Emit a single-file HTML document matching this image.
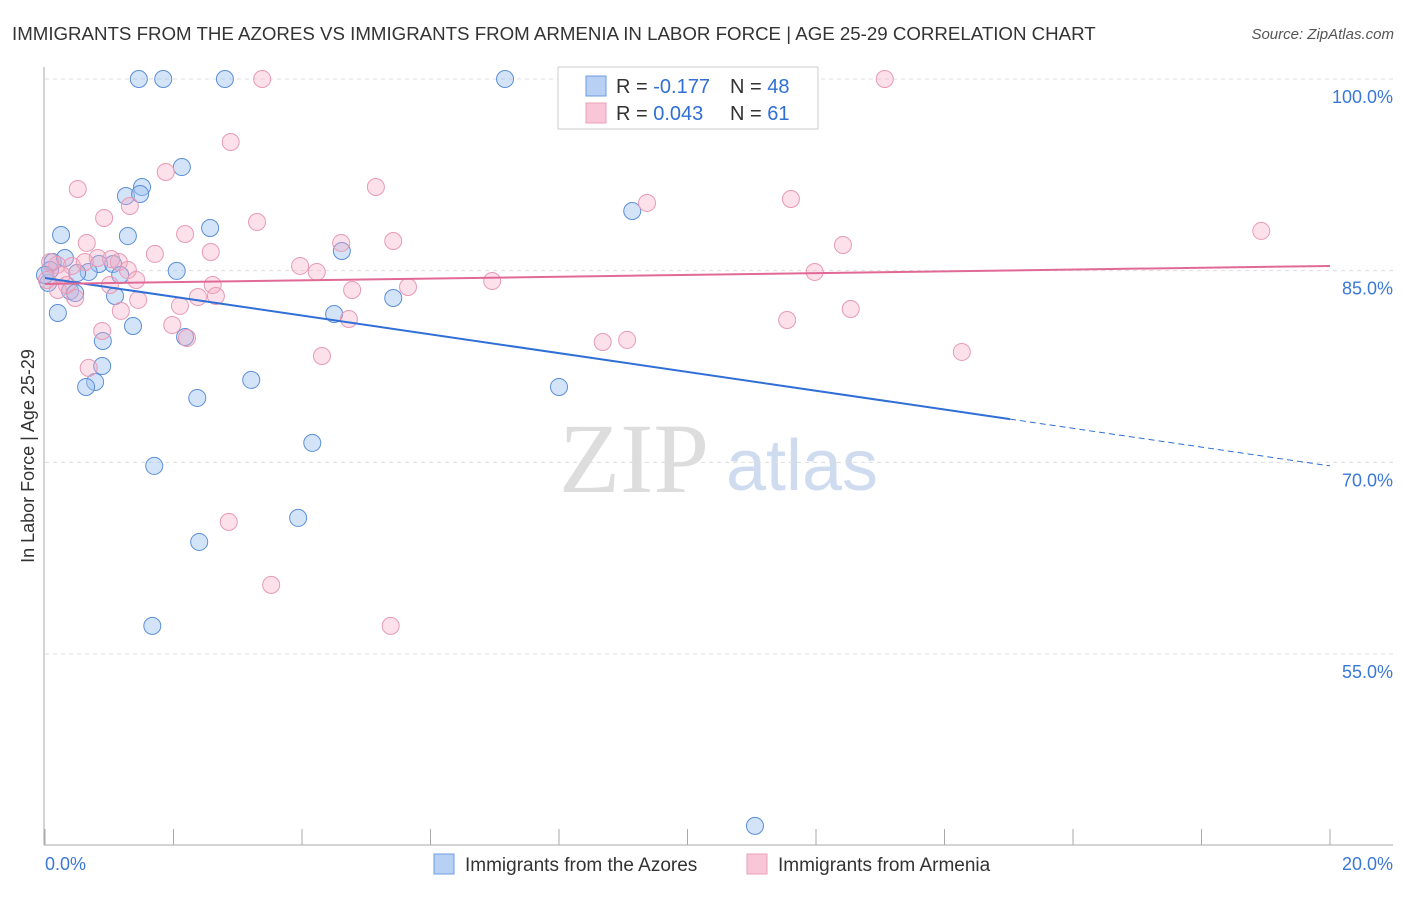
<!DOCTYPE html>
<html><head><meta charset="utf-8"><style>
body{margin:0;background:#fff;font-family:"Liberation Sans",sans-serif;}
svg text{font-family:"Liberation Sans",sans-serif;}
</style></head><body>
<svg width="1406" height="892" viewBox="0 0 1406 892" id="chart">
<text x="12" y="40" font-size="18.7" fill="#333">IMMIGRANTS FROM THE AZORES VS IMMIGRANTS FROM ARMENIA IN LABOR FORCE | AGE 25-29 CORRELATION CHART</text>
<text x="1394" y="39" font-size="15" fill="#555" text-anchor="end" font-style="italic">Source: ZipAtlas.com</text>
<text x="634" y="492" font-size="100" fill="#ddd" text-anchor="middle" style="font-family:'Liberation Serif',serif">ZIP</text>
<text x="802" y="490" font-size="72" fill="#cfdcef" text-anchor="middle">atlas</text>
<text transform="translate(34,456) rotate(-90)" font-size="18" fill="#333" text-anchor="middle">In Labor Force | Age 25-29</text>
<g id="grid"></g><g id="marks"></g>
<g>
<rect x="558" y="67" width="260" height="62" fill="#fff" stroke="#ccc"/>
<rect x="586" y="76" width="20" height="20" fill="#b8d0f3" stroke="#6d9ce0"/>
<rect x="586" y="103" width="20" height="20" fill="#f8c6d6" stroke="#eaa0b9"/>
<text x="616" y="93" font-size="20" fill="#333">R = <tspan fill="#2f6fd6">-0.177</tspan></text>
<text x="730" y="93" font-size="20" fill="#333">N = <tspan fill="#2f6fd6">48</tspan></text>
<text x="616" y="120" font-size="20" fill="#333">R = <tspan fill="#2f6fd6">0.043</tspan></text>
<text x="730" y="120" font-size="20" fill="#333">N = <tspan fill="#2f6fd6"> 61</tspan></text>
</g>
<g>
<rect x="434" y="854" width="20" height="20" fill="#b8d0f3" stroke="#6d9ce0"/>
<text x="465" y="871" font-size="19" fill="#333">Immigrants from the Azores</text>
<rect x="747" y="854" width="20" height="20" fill="#f8c6d6" stroke="#eaa0b9"/>
<text x="778" y="871" font-size="19" fill="#333">Immigrants from Armenia</text>
</g>
<text x="45" y="870" font-size="18" fill="#3a78d8">0.0%</text>
<text x="1393" y="870" font-size="18" fill="#3a78d8" text-anchor="end">20.0%</text>
</svg>
<script>
const yTicks=[100,85,70,55];
const blueX=[1.46,1.84,2.80,7.16,9.07,2.13,1.51,1.26,1.48,0.25,1.29,2.57,9.14,4.62,0.12,0.31,0.84,1.06,2.05,0.68,0.50,1.17,0.05,0.39,0.47,1.09,5.42,0.20,4.50,1.37,2.18,0.90,0.89,0.78,0.64,3.21,8.00,2.37,1.70,4.16,3.94,2.40,1.67,11.05,0.08,0.0];
const blueY=[100,100,100,100,100,93.11,91.55,90.84,91.00,87.79,87.71,88.34,89.67,86.54,85.68,85.99,85.52,85.52,84.98,84.90,84.82,84.66,84.04,83.41,83.25,83.02,82.86,81.69,81.61,80.67,79.81,79.50,77.54,76.29,75.90,76.45,75.90,75.04,69.72,71.52,65.65,63.77,57.20,41.55,85.05,84.66];
const pinkX=[3.38,13.07,2.89,0.51,5.15,1.88,1.32,0.92,9.37,11.61,3.30,2.18,0.65,4.61,5.42,18.93,1.71,2.58,12.42,0.19,0.42,0.82,1.15,1.29,3.97,4.23,1.03,1.42,11.98,6.96,2.61,4.78,5.65,0.34,0.20,0.47,2.38,2.66,1.45,1.18,2.10,1.98,4.73,0.89,2.21,11.55,12.54,8.68,9.06,4.31,14.27,0.68,2.86,3.52,5.38,0.08,0.03,0.26,0.62,1.01];
const pinkY=[100,100,95.07,91.39,91.55,92.72,90.06,89.12,90.30,90.61,88.81,87.87,87.17,87.17,87.32,88.11,86.31,86.46,87.01,85.45,85.37,85.99,85.68,85.05,85.37,84.90,85.91,84.27,84.90,84.19,83.88,83.49,83.72,83.88,83.49,82.86,82.94,83.02,82.71,81.85,82.24,80.75,81.22,80.28,79.73,81.14,82.00,79.42,79.58,78.32,78.64,77.39,65.34,60.41,57.20,85.68,84.27,84.66,85.68,83.88];
const blueTrend=[84.43,69.72], pinkTrend=[83.96,85.37], blueSolidEnd=15.02;
const NS='http://www.w3.org/2000/svg';
const sx=v=>45+v/20*1285, sy=v=>79+(100-v)*191.67/15;
function mk(t,a,p){const e=document.createElementNS(NS,t);for(const k in a)e.setAttribute(k,a[k]);p.appendChild(e);return e;}
const grid=document.getElementById('grid'), marks=document.getElementById('marks');
yTicks.forEach(t=>{
 const l=mk('line',{x1:45,x2:1393,y1:sy(t),y2:sy(t),stroke:'#ddd','stroke-dasharray':'4,4'},grid);
 
 
 const tx=mk('text',{x:1393,y:sy(t)+24,'font-size':18,fill:'#3a78d8','text-anchor':'end'},grid);
 tx.textContent=t.toFixed(1)+'%';
 
 
});
const ax=mk('line',{x1:44,x2:44,y1:67,y2:845,stroke:'#aaa'},grid);


const bx=mk('line',{x1:44,x2:1393,y1:845,y2:845,stroke:'#aaa'},grid);


for(let i=0;i<=10;i++){const tk=mk('line',{x1:sx(i*2),x2:sx(i*2),y1:829,y2:845,stroke:'#aaa'},grid);
 
 }
blueX.forEach((x,i)=>{const c=mk('circle',{cx:sx(x),cy:sy(blueY[i]),r:8.5,fill:'rgba(160,195,240,0.45)',stroke:'#5b8fd8','stroke-width':1},marks);
 
 });
pinkX.forEach((x,i)=>{const c=mk('circle',{cx:sx(x),cy:sy(pinkY[i]),r:8.5,fill:'rgba(245,170,195,0.35)',stroke:'#e89ab5','stroke-width':1},marks);
 
 });
const bAt=x=>blueTrend[0]+(blueTrend[1]-blueTrend[0])*x/20;
const t1=mk('line',{x1:sx(0),y1:sy(bAt(0)),x2:sx(blueSolidEnd),y2:sy(bAt(blueSolidEnd)),stroke:'#2f6fd6','stroke-width':2},marks);


const t2=mk('line',{x1:sx(blueSolidEnd),y1:sy(bAt(blueSolidEnd)),x2:sx(20),y2:sy(bAt(20)),stroke:'#2f6fd6','stroke-width':1,'stroke-dasharray':'6,4'},marks);


const t3=mk('line',{x1:sx(0),y1:sy(pinkTrend[0]),x2:sx(20),y2:sy(pinkTrend[1]),stroke:'#e06a95','stroke-width':2},marks);


</script>
</body></html>
